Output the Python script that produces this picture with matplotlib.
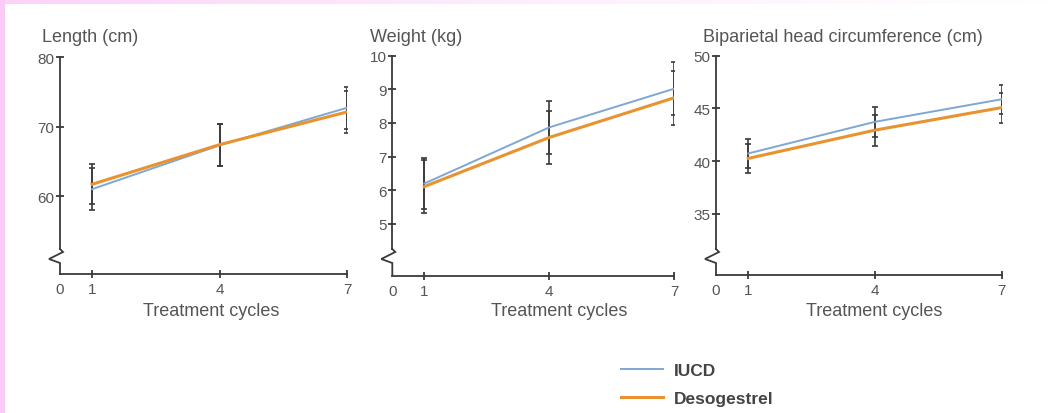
import matplotlib
matplotlib.use("Agg")
import matplotlib.pyplot as plt
import numpy as np
from matplotlib.lines import Line2D
from matplotlib.patches import Rectangle
from matplotlib.colors import LinearSegmentedColormap

plt.rcParams['font.family'] = ['Liberation Sans', 'DejaVu Sans']

# ---- data ----
cycles = [1, 4, 7]
series_names = ["IUCD", "Desogestrel"]

length_iucd = [61.0, 67.3, 72.7]
length_iucd_err = [3.0, 3.0, 3.0]
length_deso = [61.7, 67.4, 72.1]
length_deso_err = [2.9, 3.0, 3.0]

weight_iucd = [6.2, 7.87, 9.02]
weight_iucd_err = [0.75, 0.79, 0.79]
weight_deso = [6.11, 7.57, 8.75]
weight_deso_err = [0.8, 0.8, 0.8]

head_iucd = [40.73, 43.73, 45.87]
head_iucd_err = [1.37, 1.45, 1.37]
head_deso = [40.26, 42.94, 45.08]
head_deso_err = [1.4, 1.48, 1.42]

panel_titles = ["Length (cm)", "Weight (kg)", "Biparietal head circumference (cm)"]
yticks_list = [[60, 70, 80], [5, 6, 7, 8, 9, 10], [35, 40, 45, 50]]
xlabel = "Treatment cycles"

# ---- style ----
W, H = 1051, 414
blue = "#7fa7d4"
orange = "#e8932f"
axc = "#3a3a3a"
txtc = "#555555"

fig = plt.figure(figsize=(W / 100, H / 100), dpi=100)
fig.patch.set_facecolor("white")

# pink frame remnants
fig.patches.append(Rectangle((0, 0), 5 / W, 1, transform=fig.transFigure,
                             facecolor="#fbcbf8", edgecolor="none", zorder=0))
grad = np.linspace(0, 1, 256)[None, :]
bg = fig.add_axes([0, 1 - 5 / H, 1, 5 / H], zorder=-1)
cm = LinearSegmentedColormap.from_list("pk", ["#fbd3f8", "#fdeefc", "#ffffff"])
bg.imshow(grad, aspect="auto", cmap=cm, extent=[0, 1, 0, 1])
bg.axis("off")

# axes geometry (pixels): left, right, top, bottom ; xlim left, ylim
geo = [
    (60, 347, 58, 275, 0.244, (48.8, 80)),
    (392.3, 674.3, 56.7, 276.7, 0.232, (3.46, 10)),
    (716, 1001.7, 56.7, 276, 0.234, (29.2, 50)),
]
title_x = [42, 370, 703]
xlabel_cx = [211, 559, 874]
data = [
    (length_iucd, length_iucd_err, length_deso, length_deso_err),
    (weight_iucd, weight_iucd_err, weight_deso, weight_deso_err),
    (head_iucd, head_iucd_err, head_deso, head_deso_err),
]

handles = None
for i, ((l, r, t, b, x0, ylim), (iu, iue, de, dee)) in enumerate(zip(geo, data)):
    ax = fig.add_axes([l / W, 1 - b / H, (r - l) / W, (b - t) / H])
    ax.set_xlim(x0, 7)
    ax.set_ylim(*ylim)
    ax.patch.set_alpha(0)
    for s in ["top", "right"]:
        ax.spines[s].set_visible(False)
    for s in ["bottom", "left"]:
        ax.spines[s].set_color(axc)
        ax.spines[s].set_linewidth(1.3)

    # axis break on y axis
    ppu_y = (b - t) / (ylim[1] - ylim[0])
    ppu_x = (r - l) / (7 - x0)
    yb = ylim[0] + (b - 255) / ppu_y
    ax.spines["left"].set_bounds(yb + 5 / ppu_y, ylim[1])
    zx = [0, 3, -11, 0, 0]
    zy = [5, 2, -5, -9, -(b - 255)]
    ax.add_line(Line2D([x0 + dx / ppu_x for dx in zx], [yb + dy / ppu_y for dy in zy],
                       color=axc, lw=1.3, clip_on=False, solid_joinstyle="miter"))

    ax.set_xticks([x0] + cycles)
    ax.set_xticklabels(["0"] + [str(c) for c in cycles])
    ax.set_yticks(yticks_list[i])
    ax.tick_params(axis="both", direction="inout", length=6, width=1.3, color=axc,
                   labelcolor=txtc, labelsize=11)
    ax.tick_params(axis="x", pad=3)
    ax.tick_params(axis="y", pad=1)
    ax.xaxis.get_major_ticks()[0].tick1line.set_visible(False)

    ax.errorbar(cycles, iu, yerr=iue, fmt="none", ecolor=axc, elinewidth=1.2,
                capsize=2.2, capthick=1.2, zorder=2)
    ax.errorbar(cycles, de, yerr=dee, fmt="none", ecolor=axc, elinewidth=1.2,
                capsize=2.2, capthick=1.2, zorder=2)
    h1, = ax.plot(cycles, iu, color=blue, lw=1.4, zorder=3, label=series_names[0])
    h2, = ax.plot(cycles, de, color=orange, lw=2.2, zorder=4, label=series_names[1])
    if handles is None:
        handles = [h1, h2]

    fig.text(xlabel_cx[i] / W, 1 - 312 / H, xlabel, fontsize=13, color=txtc,
             ha="center", va="center")
    fig.text(title_x[i] / W, 1 - 37 / H, panel_titles[i], fontsize=13,
             color=txtc, ha="left", va="center")

leg = fig.legend(handles, series_names, loc="upper left",
                 bbox_to_anchor=(621 / W, 1 - 364 / H), frameon=False,
                 handlelength=2.4, handletextpad=0.65, labelspacing=0.75,
                 prop={"size": 12.5, "weight": "bold"}, borderaxespad=0, borderpad=0)
for tx in leg.get_texts():
    tx.set_color("#444444")

fig.savefig("out.png", dpi=100, facecolor=fig.get_facecolor())
